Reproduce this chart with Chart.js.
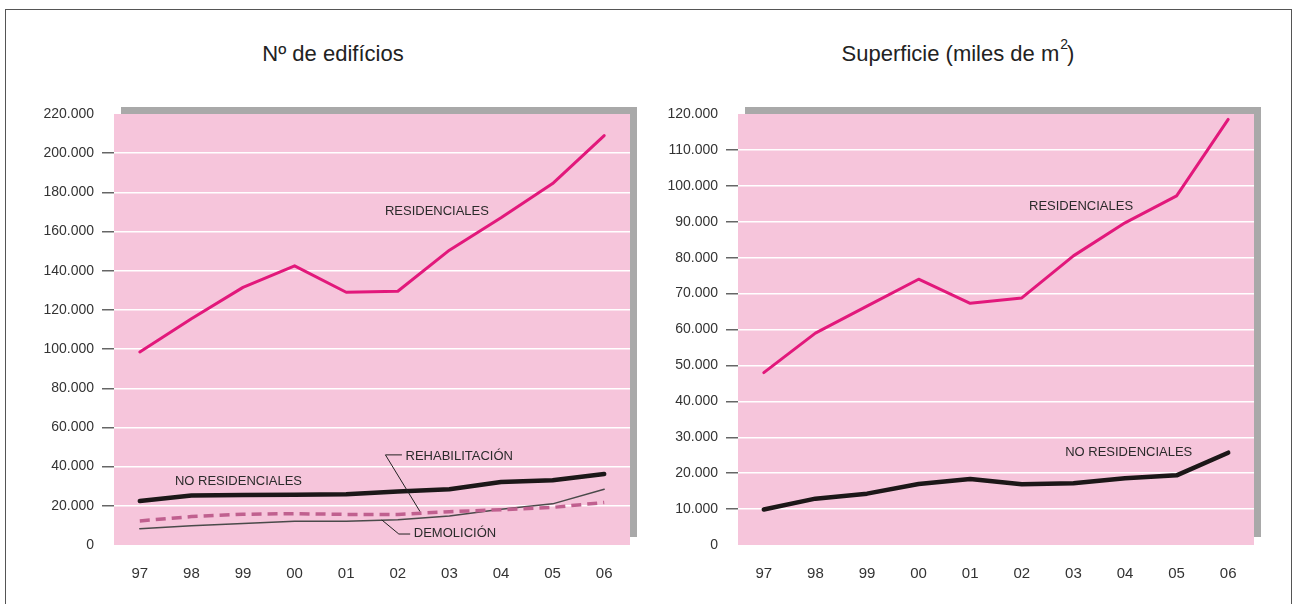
<!DOCTYPE html>
<html>
<head>
<meta charset="utf-8">
<script src="https://cdn.jsdelivr.net/npm/chart.js@4.4.1/dist/chart.umd.min.js"></script>
<style>
  body { margin: 0; width: 1293px; height: 604px; overflow: hidden; position: relative; background: #fff; font-family: "Liberation Sans", Arial, sans-serif; }
  #frame { position: absolute; left: 5px; top: 9px; width: 1287px; height: 640px; border: 1.5px solid #555; box-sizing: border-box; }
  .title { position: absolute; top: 42px; font-size: 22px; line-height: 24px; color: #222; white-space: nowrap; transform: translateX(-50%); }
  .title .sup { position: relative; top: -12px; left: 1px; font-size: 14px; }
  canvas { position: absolute; top: 0; }
</style>
</head>
<body>
<div id="frame"></div>
<div class="title" style="left:333px">Nº de edifícios</div>
<div class="title" style="left:958px">Superficie (miles de m<span class="sup">2</span>)</div>
<canvas id="left" width="660" height="604" style="left:0"></canvas>
<canvas id="right" width="653" height="604" style="left:640px"></canvas>
<script>
const years = ['97', '98', '99', '00', '01', '02', '03', '04', '05', '06'];

const edifResidenciales = [98500, 115500, 131500, 142500, 129000, 129500, 150500, 167000, 184500, 209000];
const edifNoResidenciales = [22500, 25300, 25500, 25700, 25900, 27300, 28500, 32200, 33000, 36200];
const edifRehabilitacion = [12300, 14500, 15700, 16000, 15600, 15600, 17000, 18000, 19200, 21700];
const edifDemolicion = [8300, 9800, 11000, 12100, 12100, 12900, 14800, 18300, 21000, 28500];

const supResidenciales = [48000, 59000, 66500, 74000, 67300, 68800, 80500, 89700, 97200, 118500];
const supNoResidenciales = [9900, 12900, 14300, 17000, 18400, 16900, 17200, 18600, 19400, 25700];

const edifTicks = ['0', '20.000', '40.000', '60.000', '80.000', '100.000', '120.000', '140.000', '160.000', '180.000', '200.000', '220.000'];
const supTicks = ['0', '10.000', '20.000', '30.000', '40.000', '50.000', '60.000', '70.000', '80.000', '90.000', '100.000', '110.000', '120.000'];

// labels inside the plots, placed in data units (category index, value)
const edifNotes = [
  { text: 'RESIDENCIALES', x: 4.75, y: 170300 },
  { text: 'NO RESIDENCIALES', x: 0.68, y: 32400 },
  { text: 'REHABILITACIÓN', x: 5.15, y: 45200, leader: [[5.08, 46000], [4.76, 46000], [5.43, 17100]] },
  { text: 'DEMOLICIÓN', x: 5.31, y: 6100, leader: [[5.24, 5600], [5.02, 5600], [4.69, 12800]] },
];
const supNotes = [
  { text: 'RESIDENCIALES', x: 5.14, y: 94300 },
  { text: 'NO RESIDENCIALES', x: 5.84, y: 25700 },
];

const PINK = '#f6c5db';
const SHADOW = '#a9a9a9';
const TICK_FONT = '"Liberation Sans", Arial, sans-serif';

const panelPlugin = {
  id: 'panel',
  beforeDraw(chart) {
    const { ctx, chartArea: a } = chart;
    ctx.save();
    ctx.fillStyle = SHADOW;
    ctx.fillRect(a.left + 7, a.top - 7, a.right - a.left, a.bottom - a.top - 1);
    ctx.fillStyle = PINK;
    ctx.fillRect(a.left, a.top, a.right - a.left, a.bottom - a.top);
    ctx.restore();
  },
  afterDatasetsDraw(chart, args, opts) {
    const { ctx } = chart;
    const xs = chart.scales.x;
    const ys = chart.scales.y;
    ctx.save();
    ctx.font = '13px "Liberation Sans", Arial, sans-serif';
    ctx.fillStyle = '#2b2b2b';
    ctx.textBaseline = 'middle';
    ctx.textAlign = 'left';
    (opts.notes || []).forEach(n => {
      ctx.fillText(n.text, xs.getPixelForValue(n.x), ys.getPixelForValue(n.y));
      if (n.leader) {
        ctx.strokeStyle = '#222';
        ctx.lineWidth = 1;
        ctx.beginPath();
        n.leader.forEach((p, i) => {
          const px = xs.getPixelForValue(p[0]);
          const py = ys.getPixelForValue(p[1]);
          if (i === 0) ctx.moveTo(px, py); else ctx.lineTo(px, py);
        });
        ctx.stroke();
      }
    });
    ctx.restore();
  },
};

const makeChart = (el, datasets, max, step, tickLabels, notes, yWidth, padRight) => {
  const inner = (c) => c.tick && c.tick.value > 0 && c.tick.value < max;
  return new Chart(el, {
    type: 'line',
    data: { labels: years, datasets },
    plugins: [panelPlugin],
    options: {
      responsive: false,
      devicePixelRatio: 1,
      animation: false,
      layout: { padding: { top: 114, right: padRight, left: 0, bottom: 0 } },
      elements: { point: { radius: 0 }, line: { tension: 0, borderCapStyle: 'round', borderJoinStyle: 'round' } },
      scales: {
        x: {
          type: 'category',
          offset: true,
          grid: { display: false },
          border: { display: false },
          ticks: {
            color: '#333',
            padding: 12,
            font: { family: TICK_FONT, size: 15 },
          },
          afterFit: (s) => { s.height = 59; },
        },
        y: {
          min: 0,
          max: max,
          border: { display: false },
          grid: {
            color: (c) => inner(c) ? '#ffffff' : 'rgba(0,0,0,0)',
            tickColor: (c) => inner(c) ? '#666' : 'rgba(0,0,0,0)',
            lineWidth: 1.5,
            tickLength: 12,
          },
          ticks: {
            stepSize: step,
            padding: 8,
            color: '#333',
            font: { family: TICK_FONT, size: 14 },
            callback: (v, i) => tickLabels[i],
          },
          afterFit: (s) => { s.width = yWidth; },
        },
      },
      plugins: {
        legend: { display: false },
        tooltip: { enabled: false },
        panel: { notes },
      },
    },
  });
};

makeChart(document.getElementById('left'), [
  { label: 'Residenciales', data: edifResidenciales, borderColor: '#e2187b', borderWidth: 3 },
  { label: 'No residenciales', data: edifNoResidenciales, borderColor: '#1c1718', borderWidth: 4.5 },
  { label: 'Rehabilitación', data: edifRehabilitacion, borderColor: '#c0608f', borderWidth: 3.5, borderDash: [10, 6], borderCapStyle: 'butt' },
  { label: 'Demolición', data: edifDemolicion, borderColor: '#4a4a4a', borderWidth: 1.5 },
], 220000, 20000, edifTicks, edifNotes, 114, 30);

makeChart(document.getElementById('right'), [
  { label: 'Residenciales', data: supResidenciales, borderColor: '#e2187b', borderWidth: 3 },
  { label: 'No residenciales', data: supNoResidenciales, borderColor: '#1c1718', borderWidth: 4.5 },
], 120000, 10000, supTicks, supNotes, 98, 39);
</script>
</body>
</html>
